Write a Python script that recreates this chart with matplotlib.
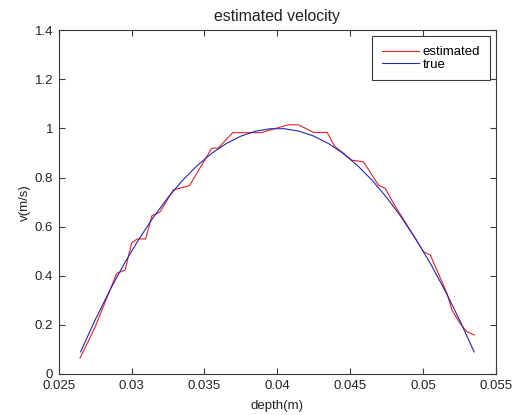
import matplotlib
matplotlib.use("Agg")
import matplotlib.pyplot as plt

# values
depth_true = [0.0265, 0.0275, 0.0285, 0.0295, 0.0305, 0.0315, 0.0325, 0.0335,
              0.0345, 0.0355, 0.0365, 0.0375, 0.0385, 0.0395, 0.0405, 0.0415,
              0.0425, 0.0435, 0.0445, 0.0455, 0.0465, 0.0475, 0.0485, 0.0495,
              0.0505, 0.0515, 0.0525, 0.0535]
v_true = [0.090, 0.220, 0.340, 0.450, 0.549, 0.639, 0.719, 0.789,
          0.849, 0.899, 0.939, 0.969, 0.989, 0.999, 0.999, 0.989,
          0.969, 0.939, 0.899, 0.849, 0.789, 0.719, 0.639, 0.549,
          0.450, 0.340, 0.220, 0.090]

depth_est = [0.02646, 0.02749, 0.02852, 0.02898, 0.02955, 0.03001, 0.03038,
             0.03096, 0.03140, 0.03195, 0.03287, 0.03397, 0.03470, 0.03550,
             0.03594, 0.03694, 0.03889, 0.03985, 0.04076, 0.04145, 0.04248,
             0.04342, 0.04390, 0.04511, 0.04591, 0.04694, 0.04740, 0.04797,
             0.05003, 0.05049, 0.05164, 0.05198, 0.05255, 0.05301, 0.05351]
v_est = [0.064, 0.190, 0.342, 0.410, 0.423, 0.534, 0.550,
         0.550, 0.645, 0.660, 0.750, 0.767, 0.840, 0.920,
         0.920, 0.983, 0.983, 1.000, 1.015, 1.015, 0.984,
         0.984, 0.930, 0.871, 0.864, 0.769, 0.756, 0.695,
         0.498, 0.485, 0.328, 0.260, 0.205, 0.172, 0.159]

xticks = [0.025, 0.03, 0.035, 0.04, 0.045, 0.05, 0.055]
xticklabels = ["0.025", "0.03", "0.035", "0.04", "0.045", "0.05", "0.055"]
yticks = [0, 0.2, 0.4, 0.6, 0.8, 1.0, 1.2, 1.4]
yticklabels = ["0", "0.2", "0.4", "0.6", "0.8", "1", "1.2", "1.4"]

plt.rcParams['font.family'] = ['Liberation Sans', 'DejaVu Sans']
plt.rcParams['font.size'] = 9.5

fig = plt.figure(figsize=(5.14, 4.15), dpi=100)
ax = fig.add_axes([0.1142, 0.0988, 0.8508, 0.8282])

ax.plot(depth_est, v_est, color='#e02424', lw=0.8, label='estimated')
ax.plot(depth_true, v_true, color='#2626b4', lw=0.8, label='true')

ax.set_xlim(0.025, 0.055)
ax.set_ylim(0, 1.4)
ax.set_xticks(xticks)
ax.set_xticklabels(xticklabels)
ax.set_yticks(yticks)
ax.set_yticklabels(yticklabels)

frame = '#3a3a3a'
for s in ax.spines.values():
    s.set_color(frame)
    s.set_linewidth(0.8)
ax.tick_params(direction='in', top=True, right=True, length=4, width=0.8,
               color=frame, labelcolor='#222222', pad=4)

ax.set_title('estimated velocity', pad=7, color='#222222')
ax.set_xlabel('depth(m)', labelpad=6, color='#222222')
ax.set_ylabel('v(m/s)', labelpad=3, color='#222222')

leg = ax.legend(loc='upper right', fancybox=False, framealpha=1,
                edgecolor=frame, handlelength=2.85, handletextpad=0.25,
                labelspacing=0.0, borderpad=0.75, borderaxespad=0.45,
                fontsize=9.5)
leg.get_frame().set_linewidth(0.8)

fig.savefig('out.png', dpi=100)
